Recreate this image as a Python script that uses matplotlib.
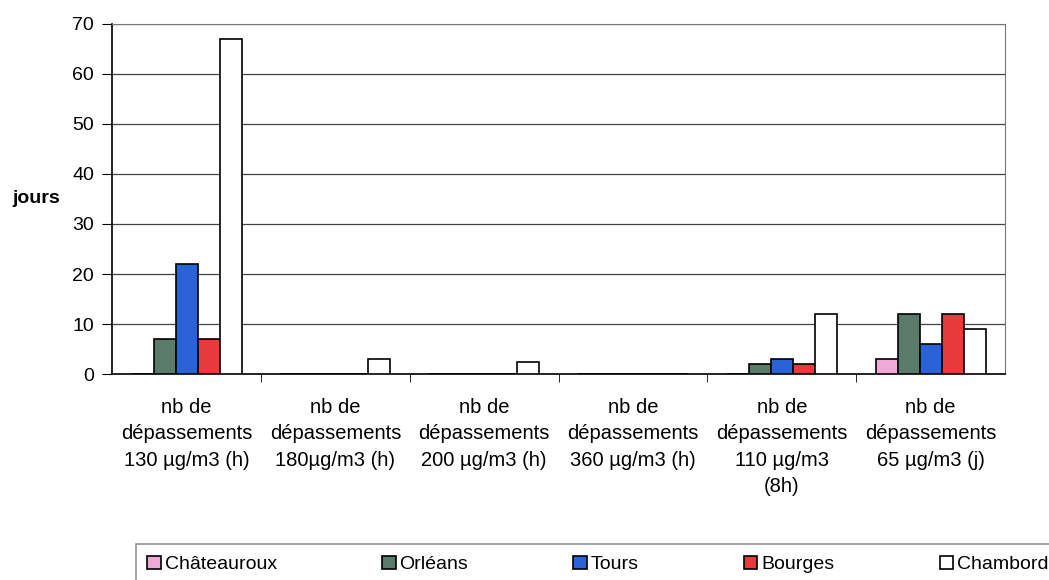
import matplotlib.pyplot as plt
import numpy as np

plt.rcParams["font.family"] = ["Liberation Sans", "DejaVu Sans"]

categories = ['nb de\ndépassements\n130 µg/m3 (h)',
              'nb de\ndépassements\n180µg/m3 (h)',
              'nb de\ndépassements\n200 µg/m3 (h)',
              'nb de\ndépassements\n360 µg/m3 (h)',
              'nb de\ndépassements\n110 µg/m3\n(8h)',
              'nb de\ndépassements\n65 µg/m3 (j)']
chateauroux = [0, 0, 0, 0, 0, 3]
orleans = [7, 0, 0, 0, 2, 12]
tours = [22, 0, 0, 0, 3, 6]
bourges = [7, 0, 0, 0, 2, 12]
chambord = [67, 3, 2.5, 0, 12, 9]

series = [('Châteauroux', chateauroux, '#f0a8d8'),
          ('Orléans', orleans, '#5a7a6a'),
          ('Tours', tours, '#2a62d8'),
          ('Bourges', bourges, '#e83a3a'),
          ('Chambord', chambord, '#ffffff')]

fig = plt.figure(figsize=(10.49, 5.80), dpi=100)
ax = fig.add_axes([0.107, 0.355, 0.851, 0.604])

x = np.arange(len(categories))
w = 0.148
for i, (name, vals, col) in enumerate(series):
    ax.bar(x + (i - 2) * w, vals, w, color=col, edgecolor='black',
           linewidth=1.2, label=name, zorder=3)

ax.set_xlim(-0.5, len(categories) - 0.5)
ax.set_ylim(0, 70)
ax.set_yticks(range(0, 71, 10))
ax.yaxis.grid(True, color='#444444', linewidth=0.9, zorder=0)
ax.set_xticks(x)
ax.set_xticklabels(categories, fontsize=14.5, linespacing=1.5)
ax.tick_params(axis='x', length=0, pad=17)
ax.set_xticks(np.arange(0.5, len(categories) - 0.5, 1), minor=True)
ax.tick_params(axis='x', which='minor', length=6, direction='out')
ax.tick_params(axis='y', labelsize=14, length=7, direction='out', pad=6)
for s in ['top', 'right']:
    ax.spines[s].set_color('#777777')
for s in ['left', 'bottom']:
    ax.spines[s].set_linewidth(1.2)

fig.text(0.012, 0.657, 'jours', fontsize=14, fontweight='bold',
         ha='left', va='center')

leg = fig.legend(loc='lower left', bbox_to_anchor=(0.12, -0.025, 0.9, 0.1),
                 ncol=5, mode='expand', fontsize=14, frameon=True,
                 fancybox=False, edgecolor='#777777', handlelength=0.7,
                 handleheight=0.7, handletextpad=0.2, borderpad=0.6)
leg.get_frame().set_linewidth(1.2)

fig.savefig('out.png', dpi=100)
